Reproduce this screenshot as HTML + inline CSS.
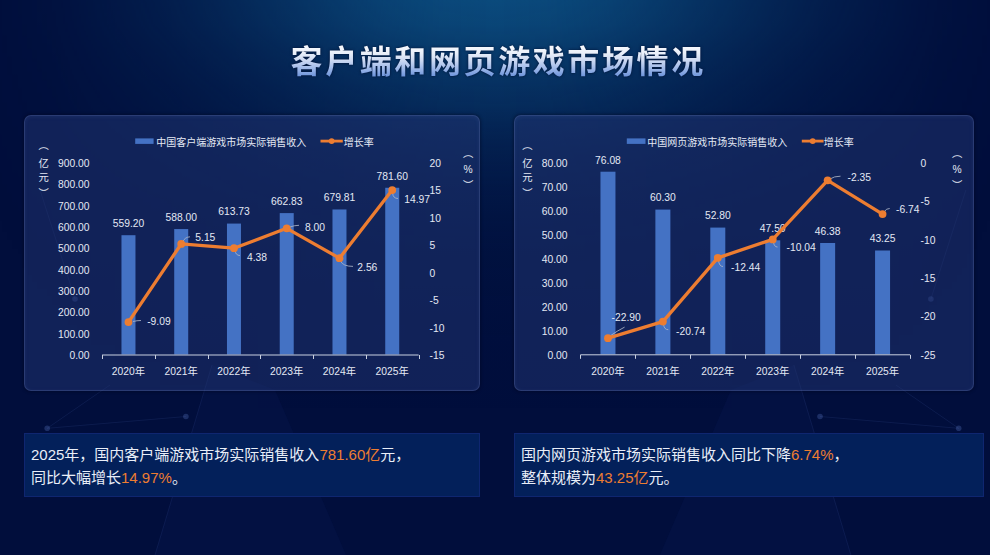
<!DOCTYPE html>
<html lang="zh"><head><meta charset="utf-8"><title>客户端和网页游戏市场情况</title>
<style>
html,body{margin:0;padding:0}
body{width:990px;height:555px;overflow:hidden;position:relative;background:#010e3c;font-family:"Liberation Sans","Noto Sans CJK SC",sans-serif;}
.bg{position:absolute;left:0;top:0;width:990px;height:555px;background:linear-gradient(180deg, rgba(10,74,124,1) 0px, rgba(10,74,124,0.92) 25px, rgba(10,74,124,0.77) 50px, rgba(10,74,124,0.64) 75px, rgba(10,74,124,0.56) 90px, rgba(10,74,124,0.5) 105px, rgba(10,74,124,0.39) 125px, rgba(10,74,124,0.28) 150px, rgba(10,74,124,0.2) 175px, rgba(10,74,124,0.13) 200px, rgba(10,74,124,0.06) 250px, rgba(10,74,124,0.03) 300px, rgba(10,74,124,0.012) 350px, rgba(10,74,124,0) 420px);-webkit-mask-image:linear-gradient(90deg, rgba(0,0,0,0.020) 0px, rgba(0,0,0,0.063) 55px, rgba(0,0,0,0.155) 110px, rgba(0,0,0,0.259) 165px, rgba(0,0,0,0.392) 220px, rgba(0,0,0,0.549) 275px, rgba(0,0,0,0.714) 330px, rgba(0,0,0,0.861) 385px, rgba(0,0,0,0.963) 440px, rgba(0,0,0,1.000) 495px, rgba(0,0,0,0.963) 550px, rgba(0,0,0,0.861) 605px, rgba(0,0,0,0.714) 660px, rgba(0,0,0,0.549) 715px, rgba(0,0,0,0.392) 770px, rgba(0,0,0,0.259) 825px, rgba(0,0,0,0.155) 880px, rgba(0,0,0,0.063) 935px, rgba(0,0,0,0.020) 990px);mask-image:linear-gradient(90deg, rgba(0,0,0,0.020) 0px, rgba(0,0,0,0.063) 55px, rgba(0,0,0,0.155) 110px, rgba(0,0,0,0.259) 165px, rgba(0,0,0,0.392) 220px, rgba(0,0,0,0.549) 275px, rgba(0,0,0,0.714) 330px, rgba(0,0,0,0.861) 385px, rgba(0,0,0,0.963) 440px, rgba(0,0,0,1.000) 495px, rgba(0,0,0,0.963) 550px, rgba(0,0,0,0.861) 605px, rgba(0,0,0,0.714) 660px, rgba(0,0,0,0.549) 715px, rgba(0,0,0,0.392) 770px, rgba(0,0,0,0.259) 825px, rgba(0,0,0,0.155) 880px, rgba(0,0,0,0.063) 935px, rgba(0,0,0,0.020) 990px);}
.title{position:absolute;left:0;top:39.8px;width:990px;text-align:center;font-size:32px;line-height:44px;font-weight:bold;letter-spacing:2.6px;text-indent:6.3px;
background:linear-gradient(180deg,#f8fafe 13%,#e9eff9 30%,#cbd8f2 47%,#a3bcea 63%,#7499dd 80%,#5d87d6 100%);filter:drop-shadow(0 0 1.5px rgba(0,12,45,0.85));-webkit-background-clip:text;background-clip:text;color:transparent;font-family:"Liberation Sans","Noto Sans CJK SC",sans-serif;}
.panel{position:absolute;box-sizing:border-box;border:1px solid rgba(110,130,190,0.27);border-radius:7px;background:rgba(33,54,116,0.5);box-shadow:0 0 3px 1px rgba(0,4,28,0.4), inset 0 1px 4px rgba(120,150,230,0.1);}
.vt{position:absolute;writing-mode:vertical-rl;text-orientation:upright;font-size:10.3px;line-height:12px;color:#e4e9f4;}
.box{position:absolute;box-sizing:border-box;background:#03205a;border:1px solid #0f2670;padding:10px 0 0 6px;font-size:15px;line-height:22.6px;color:#e9eef8;}
.box .o{color:#ed7d31}
svg{position:absolute;left:0;top:0}
svg text{font-family:"Liberation Sans","Noto Sans CJK SC",sans-serif;font-size:10.3px;fill:#e4e9f4}
</style></head><body>
<div class="bg"></div>
<svg width="990" height="555" viewBox="0 0 990 555" style="filter:blur(0.6px)">
<polygon points="212,365 275,390 346,555 155,555" fill="rgba(30,50,130,0.1)"/>
<polygon points="793.9,365 730.9,390 659.9,555 850.9,555" fill="rgba(30,50,130,0.1)"/>
<path d="M47.2 428.3L185.9 416.5" stroke="rgba(110,140,220,0.11)" stroke-width="1" fill="none"/>
<path d="M958.7 428.3L820 416.5" stroke="rgba(110,140,220,0.11)" stroke-width="1" fill="none"/>
<path d="M47.2 428.3L110 385" stroke="rgba(110,140,220,0.11)" stroke-width="1" fill="none"/>
<path d="M958.7 428.3L895.9 385" stroke="rgba(110,140,220,0.11)" stroke-width="1" fill="none"/>
<path d="M212 365L155 555" stroke="rgba(110,140,220,0.11)" stroke-width="1" fill="none"/>
<path d="M793.9 365L850.9 555" stroke="rgba(110,140,220,0.11)" stroke-width="1" fill="none"/>
<path d="M75 299L40 190" stroke="rgba(110,140,220,0.11)" stroke-width="1" fill="none"/>
<path d="M930.9 299L965.9 190" stroke="rgba(110,140,220,0.11)" stroke-width="1" fill="none"/>
<circle cx="47.2" cy="428.3" r="2.8" fill="rgba(110,140,220,0.26)"/>
<circle cx="958.7" cy="428.3" r="2.8" fill="rgba(110,140,220,0.26)"/>
<circle cx="185.9" cy="416.5" r="2.8" fill="rgba(110,140,220,0.26)"/>
<circle cx="820" cy="416.5" r="2.8" fill="rgba(110,140,220,0.26)"/>
<circle cx="75" cy="299" r="2.8" fill="rgba(110,140,220,0.26)"/>
<circle cx="930.9" cy="299" r="2.8" fill="rgba(110,140,220,0.26)"/>
</svg>
<div class="title">客户端和网页游戏市场情况</div>
<div class="panel" style="left:24px;top:115px;width:456px;height:276px"></div>
<div class="panel" style="left:514px;top:115px;width:460px;height:276px"></div>
<svg width="990" height="555" viewBox="0 0 990 555">
<text x="89.5" y="359" text-anchor="end">0.00</text>
<text x="89.5" y="337.67" text-anchor="end">100.00</text>
<text x="89.5" y="316.33" text-anchor="end">200.00</text>
<text x="89.5" y="295" text-anchor="end">300.00</text>
<text x="89.5" y="273.67" text-anchor="end">400.00</text>
<text x="89.5" y="252.33" text-anchor="end">500.00</text>
<text x="89.5" y="231" text-anchor="end">600.00</text>
<text x="89.5" y="209.67" text-anchor="end">700.00</text>
<text x="89.5" y="188.33" text-anchor="end">800.00</text>
<text x="89.5" y="167" text-anchor="end">900.00</text>
<text x="429.5" y="359">-15</text>
<text x="429.5" y="331.57">-10</text>
<text x="429.5" y="304.14">-5</text>
<text x="429.5" y="276.71">0</text>
<text x="429.5" y="249.29">5</text>
<text x="429.5" y="221.86">10</text>
<text x="429.5" y="194.43">15</text>
<text x="429.5" y="167">20</text>
<rect x="121.47" y="235.2" width="14" height="119.3" fill="#4472c4"/>
<rect x="174.22" y="229.06" width="14" height="125.44" fill="#4472c4"/>
<rect x="226.97" y="223.57" width="14" height="130.93" fill="#4472c4"/>
<rect x="279.73" y="213.1" width="14" height="141.4" fill="#4472c4"/>
<rect x="332.48" y="209.47" width="14" height="145.03" fill="#4472c4"/>
<rect x="385.23" y="187.76" width="14" height="166.74" fill="#4472c4"/>
<path d="M102.1 355H418.6" stroke="#c9d0e0" stroke-width="1" fill="none"/>
<path d="M102.5 355v4M155.5 355v4M208.5 355v4M260.5 355v4M313.5 355v4M366.5 355v4M419.5 355v4" stroke="#c9d0e0" stroke-width="1" fill="none"/>
<text x="128.47" y="375" text-anchor="middle">2020年</text>
<text x="181.22" y="375" text-anchor="middle">2021年</text>
<text x="233.97" y="375" text-anchor="middle">2022年</text>
<text x="286.73" y="375" text-anchor="middle">2023年</text>
<text x="339.48" y="375" text-anchor="middle">2024年</text>
<text x="392.23" y="375" text-anchor="middle">2025年</text>
<text x="128.47" y="227.1" text-anchor="middle">559.20</text>
<text x="181.22" y="220.96" text-anchor="middle">588.00</text>
<text x="233.97" y="215.47" text-anchor="middle">613.73</text>
<text x="286.73" y="205" text-anchor="middle">662.83</text>
<text x="339.48" y="201.37" text-anchor="middle">679.81</text>
<text x="392.23" y="179.66" text-anchor="middle">781.60</text>
<path d="M133 321.5Q137 320.5 141 320.5" stroke="#aab3c5" stroke-opacity="0.85" stroke-width="1" fill="none"/>
<path d="M182.5 242Q185 237 190 236.8" stroke="#aab3c5" stroke-opacity="0.85" stroke-width="1" fill="none"/>
<path d="M235 250Q235.5 255.5 240 255.5" stroke="#aab3c5" stroke-opacity="0.85" stroke-width="1" fill="none"/>
<path d="M290 227Q294 225.4 299 225.3" stroke="#aab3c5" stroke-opacity="0.85" stroke-width="1" fill="none"/>
<path d="M340.5 261Q343 266.4 353 266.4" stroke="#aab3c5" stroke-opacity="0.85" stroke-width="1" fill="none"/>
<path d="M392.6 193Q393 198.5 398 198.5" stroke="#aab3c5" stroke-opacity="0.85" stroke-width="1" fill="none"/>
<polyline points="128.47,322.08 181.22,243.96 233.97,248.19 286.73,228.33 339.48,258.17 392.23,190.09" stroke="#ed7d31" stroke-width="3.3" fill="none" stroke-linejoin="round"/>
<circle cx="128.47" cy="322.08" r="3.9" fill="#ed7d31"/>
<circle cx="181.22" cy="243.96" r="3.9" fill="#ed7d31"/>
<circle cx="233.97" cy="248.19" r="3.9" fill="#ed7d31"/>
<circle cx="286.73" cy="228.33" r="3.9" fill="#ed7d31"/>
<circle cx="339.48" cy="258.17" r="3.9" fill="#ed7d31"/>
<circle cx="392.23" cy="190.09" r="3.9" fill="#ed7d31"/>
<text x="147.2" y="325.1">-9.09</text>
<text x="195.3" y="241.3">5.15</text>
<text x="247" y="260.5">4.38</text>
<text x="305" y="231.2">8.00</text>
<text x="357.3" y="270.7">2.56</text>
<text x="404.3" y="203.4">14.97</text>
<rect x="135.2" y="138.4" width="18.4" height="5.5" fill="#4472c4"/>
<text x="156.2" y="146.2" style="font-size:10px">中国客户端游戏市场实际销售收入</text>
<path d="M320.5 141.1h22.3" stroke="#ed7d31" stroke-width="2.8"/>
<circle cx="331.65" cy="141.1" r="2.9" fill="#ed7d31"/>
<text x="343.8" y="146.2" style="font-size:10px">增长率</text>
<text x="567.5" y="358.8" text-anchor="end">0.00</text>
<text x="567.5" y="334.8" text-anchor="end">10.00</text>
<text x="567.5" y="310.8" text-anchor="end">20.00</text>
<text x="567.5" y="286.8" text-anchor="end">30.00</text>
<text x="567.5" y="262.8" text-anchor="end">40.00</text>
<text x="567.5" y="238.8" text-anchor="end">50.00</text>
<text x="567.5" y="214.8" text-anchor="end">60.00</text>
<text x="567.5" y="190.8" text-anchor="end">70.00</text>
<text x="567.5" y="166.8" text-anchor="end">80.00</text>
<text x="920.5" y="358.8">-25</text>
<text x="920.5" y="320.4">-20</text>
<text x="920.5" y="282">-15</text>
<text x="920.5" y="243.6">-10</text>
<text x="920.5" y="205.2">-5</text>
<text x="920.5" y="166.8">0</text>
<rect x="600.46" y="171.71" width="15" height="182.59" fill="#4472c4"/>
<rect x="655.38" y="209.58" width="15" height="144.72" fill="#4472c4"/>
<rect x="710.3" y="227.58" width="15" height="126.72" fill="#4472c4"/>
<rect x="765.22" y="240.3" width="15" height="114" fill="#4472c4"/>
<rect x="820.14" y="242.99" width="15" height="111.31" fill="#4472c4"/>
<rect x="875.06" y="250.5" width="15" height="103.8" fill="#4472c4"/>
<path d="M580.5 354.8H910.02" stroke="#c9d0e0" stroke-width="1" fill="none"/>
<path d="M580.5 354.8v4M635.5 354.8v4M690.5 354.8v4M745.5 354.8v4M800.5 354.8v4M855.5 354.8v4M910.5 354.8v4" stroke="#c9d0e0" stroke-width="1" fill="none"/>
<text x="607.96" y="375" text-anchor="middle">2020年</text>
<text x="662.88" y="375" text-anchor="middle">2021年</text>
<text x="717.8" y="375" text-anchor="middle">2022年</text>
<text x="772.72" y="375" text-anchor="middle">2023年</text>
<text x="827.64" y="375" text-anchor="middle">2024年</text>
<text x="882.56" y="375" text-anchor="middle">2025年</text>
<text x="607.96" y="163.61" text-anchor="middle">76.08</text>
<text x="662.88" y="201.48" text-anchor="middle">60.30</text>
<text x="717.8" y="219.48" text-anchor="middle">52.80</text>
<text x="772.72" y="232.2" text-anchor="middle">47.50</text>
<text x="827.64" y="234.89" text-anchor="middle">46.38</text>
<text x="882.56" y="242.4" text-anchor="middle">43.25</text>
<path d="M610 336Q617 331 624.6 327.1" stroke="#aab3c5" stroke-opacity="0.85" stroke-width="1" fill="none"/>
<path d="M663.5 324Q664 329.7 668.3 329.7" stroke="#aab3c5" stroke-opacity="0.85" stroke-width="1" fill="none"/>
<path d="M718.5 260Q719 266.5 723 266.5" stroke="#aab3c5" stroke-opacity="0.85" stroke-width="1" fill="none"/>
<path d="M773.5 242Q774 247 777.5 247" stroke="#aab3c5" stroke-opacity="0.85" stroke-width="1" fill="none"/>
<path d="M830 179Q834 176.2 840.5 176.2" stroke="#aab3c5" stroke-opacity="0.85" stroke-width="1" fill="none"/>
<path d="M884.5 211.5Q886 208.5 889.7 208.5" stroke="#aab3c5" stroke-opacity="0.85" stroke-width="1" fill="none"/>
<polyline points="607.96,338.17 662.88,321.58 717.8,257.84 772.72,239.41 827.64,180.35 882.56,214.06" stroke="#ed7d31" stroke-width="3.3" fill="none" stroke-linejoin="round"/>
<circle cx="607.96" cy="338.17" r="3.9" fill="#ed7d31"/>
<circle cx="662.88" cy="321.58" r="3.9" fill="#ed7d31"/>
<circle cx="717.8" cy="257.84" r="3.9" fill="#ed7d31"/>
<circle cx="772.72" cy="239.41" r="3.9" fill="#ed7d31"/>
<circle cx="827.64" cy="180.35" r="3.9" fill="#ed7d31"/>
<circle cx="882.56" cy="214.06" r="3.9" fill="#ed7d31"/>
<text x="611.6" y="320.9">-22.90</text>
<text x="676" y="335.2">-20.74</text>
<text x="731" y="271.4">-12.44</text>
<text x="786.5" y="251.3">-10.04</text>
<text x="847.5" y="180.6">-2.35</text>
<text x="896" y="213.1">-6.74</text>
<rect x="626.8" y="138.4" width="18.7" height="5.5" fill="#4472c4"/>
<text x="647.2" y="146.2" style="font-size:10px">中国网页游戏市场实际销售收入</text>
<path d="M801.8 141.1h21.8" stroke="#ed7d31" stroke-width="2.8"/>
<circle cx="812.7" cy="141.1" r="2.9" fill="#ed7d31"/>
<text x="823.8" y="146.2" style="font-size:10px">增长率</text>
<text x="43.7" y="149.2" text-anchor="middle">︵</text>
<text x="43.7" y="167.1" text-anchor="middle">亿</text>
<text x="43.7" y="181.4" text-anchor="middle">元</text>
<text x="43.7" y="196.6" text-anchor="middle">︶</text>
<text x="468.1" y="157" text-anchor="middle">︵</text>
<text x="468.1" y="173.2" text-anchor="middle">%</text>
<text x="468.1" y="188.9" text-anchor="middle">︶</text>
<text x="527.4" y="149.2" text-anchor="middle">︵</text>
<text x="527.4" y="167.1" text-anchor="middle">亿</text>
<text x="527.4" y="181.4" text-anchor="middle">元</text>
<text x="527.4" y="196.6" text-anchor="middle">︶</text>
<text x="957.1" y="157" text-anchor="middle">︵</text>
<text x="957.1" y="173.2" text-anchor="middle">%</text>
<text x="957.1" y="188.9" text-anchor="middle">︶</text>
</svg>
<div class="box" style="left:24px;top:433px;width:456px;height:64px">2025年，国内客户端游戏市场实际销售收入<span class="o">781.60亿</span>元，<br>同比大幅增长<span class="o">14.97%</span>。</div>
<div class="box" style="left:514px;top:433px;width:470px;height:64px">国内网页游戏市场实际销售收入同比下降<span class="o">6.74%</span>，<br>整体规模为<span class="o">43.25亿</span>元。</div>
</body></html>
